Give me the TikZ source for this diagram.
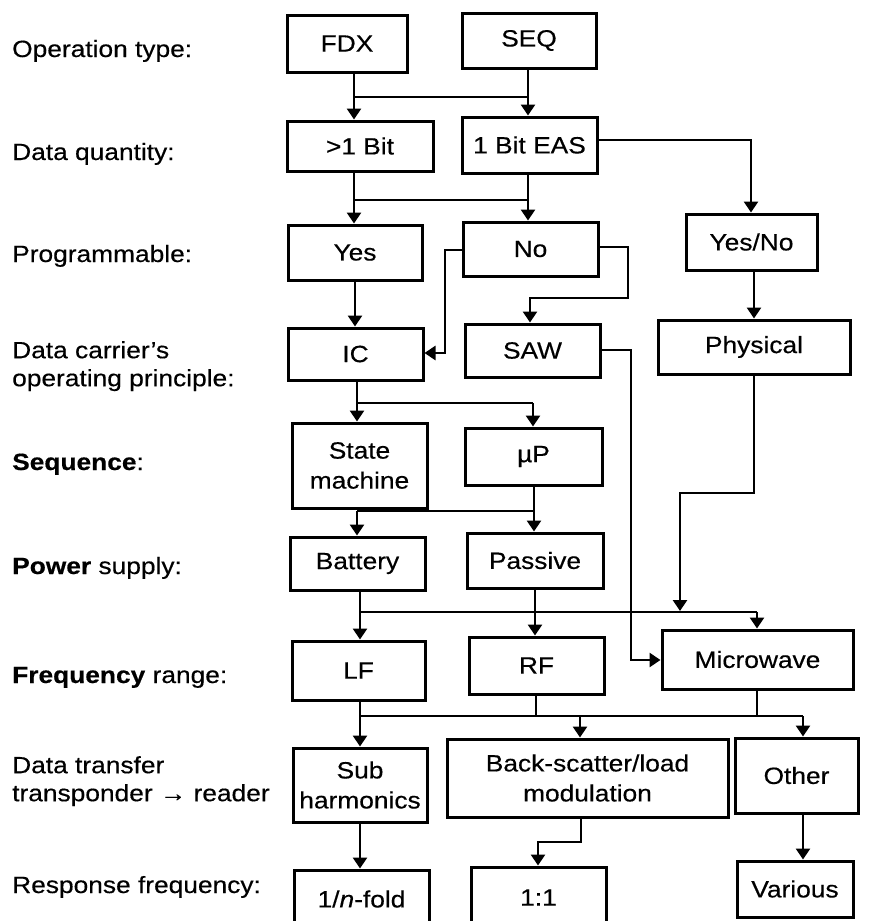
\documentclass[tikz,border=0pt]{standalone}
\usepackage{fontspec}
\setmainfont{Liberation Sans}[FakeStretch=1.12,FakeBold=0.4]
\usetikzlibrary{arrows.meta}
\newcommand\boxfnt{\fontsize{23.5}{30}\selectfont}
\newcommand\lblfnt{\fontsize{23.5}{28}\selectfont}
\begin{document}
\begin{tikzpicture}[x=1pt,y=-1pt,
  box/.style={draw, line width=3pt, inner sep=0pt, align=center, font=\boxfnt},
  lbl/.style={inner sep=0pt, align=left, font=\lblfnt},
  conn/.style={line width=2.8pt},
  arr/.style={conn, -{Triangle[width=14pt,length=11pt]}}]
\useasboundingbox[fill=white] (0,0) rectangle (870,921);

% ---- labels ----
\node[lbl, anchor=base west] (l1) at (12,57) {Operation type:};
\node[lbl, anchor=base west] (l2) at (12,160) {Data quantity:};
\node[lbl, anchor=base west] (l3) at (12,262) {Programmable:};
\node[lbl, anchor=north west] (l4) at (12,341) {Data carrier's\\operating principle:};
\node[lbl, anchor=base west] (l5) at (12,470) {\textbf{Sequence}:};
\node[lbl, anchor=base west] (l6) at (12,574) {\textbf{Power} supply:};
\node[lbl, anchor=base west] (l7) at (12,683) {\textbf{Frequency} range:};
\node[lbl, anchor=north west] (l8) at (12,756) {Data transfer\\transponder → reader};
\node[lbl, anchor=base west] (l9) at (12,893) {Response frequency:};

% ---- boxes ----
\node[box, minimum width=120pt, minimum height=57pt] (fdx) at (347,43.5) {FDX};
\node[box, minimum width=134pt, minimum height=55pt] (seq) at (529,40.5) {SEQ};
\node[box, minimum width=146pt, minimum height=50pt] (bit1) at (360,146) {>1 Bit};
\node[box, minimum width=135pt, minimum height=56pt] (eas) at (529.5,145) {1 Bit EAS};
\node[box, minimum width=134pt, minimum height=55pt] (yes) at (355,252.5) {Yes};
\node[box, minimum width=135pt, minimum height=54pt] (no) at (530.5,249) {No};
\node[box, minimum width=131pt, minimum height=56pt] (yesno) at (751.5,242) {Yes/No};
\node[box, minimum width=135pt, minimum height=52pt] (ic) at (355.5,354) {IC};
\node[box, minimum width=135pt, minimum height=53pt] (saw) at (532.5,350.5) {SAW};
\node[box, minimum width=192pt, minimum height=54pt] (phys) at (754,347) {Physical};
\node[box, minimum width=135pt, minimum height=85pt] (sm) at (359.5,465.5) {State\\machine};
\node[box, minimum width=137pt, minimum height=57pt] (up) at (533.5,456.5) {µP};
\node[box, minimum width=135pt, minimum height=53pt] (bat) at (357.5,563.5) {Battery};
\node[box, minimum width=136pt, minimum height=55pt] (pas) at (535,560.5) {Passive};
\node[box, minimum width=133pt, minimum height=59pt] (lf) at (358.5,670.5) {LF};
\node[box, minimum width=135pt, minimum height=57pt] (rf) at (536.5,665.5) {RF};
\node[box, minimum width=191pt, minimum height=59pt] (mw) at (757.5,659.5) {Microwave};
\node[box, minimum width=134pt, minimum height=74pt] (sub) at (360,785) {Sub\\harmonics};
\node[box, minimum width=281pt, minimum height=78pt] (bs) at (587.5,778) {Back-scatter/load\\modulation};
\node[box, minimum width=123pt, minimum height=75pt] (other) at (796.5,775.5) {Other};
\node[box, minimum width=135pt, minimum height=58pt] (nfold) at (361.5,899) {1/\textit{n}-fold};
\node[box, minimum width=135pt, minimum height=61pt] (one) at (538.5,897.5) {1:1};
\node[box, minimum width=116pt, minimum height=56pt] (various) at (795,889) {Various};

% ---- junction / bend coordinates ----
\coordinate (j1L) at (354,97);  \coordinate (j1R) at (528,97);
\coordinate (j2L) at (354,200); \coordinate (j2R) at (528,200);
\coordinate (b1) at (751,140);
\coordinate (b2) at (445,250);  \coordinate (b3) at (445,353);
\coordinate (b4) at (628,247);  \coordinate (b5) at (628,298); \coordinate (b6) at (530,298);
\coordinate (j3L) at (357,403); \coordinate (j3R) at (533,403);
\coordinate (j4L) at (357,511); \coordinate (j4R) at (534,511);
\coordinate (b7) at (631,350);  \coordinate (b8) at (631,660);
\coordinate (b9) at (754,493);  \coordinate (b10) at (680,493); \coordinate (j5P) at (680,611);
\coordinate (j5L) at (360,612); \coordinate (j5M) at (535,612); \coordinate (j5R) at (757,612);
\coordinate (j6L) at (360,716); \coordinate (j6M) at (536,716); \coordinate (j6W) at (757,716);
\coordinate (j6B) at (580,716); \coordinate (j6R) at (803,716);
\coordinate (b11) at (581,842); \coordinate (b12) at (538,842);

% ---- connectors ----
\draw[conn] (j1L) -- (j1R);
\draw[arr] (fdx.south -| j1L) -- (bit1.north -| j1L);
\draw[arr] (seq.south -| j1R) -- (eas.north -| j1R);

\draw[conn] (j2L) -- (j2R);
\draw[arr] (bit1.south -| j2L) -- (yes.north -| j2L);
\draw[arr] (eas.south -| j2R) -- (no.north -| j2R);
\draw[arr] (eas.east |- b1) -- (b1) -- (yesno.north -| b1);

\draw[arr] (no.west |- b2) -- (b2) -- (b3) -- (ic.east |- b3);
\draw[arr] (no.east |- b4) -- (b4) -- (b5) -- (b6) -- (saw.north -| b6);
\draw[arr] (yes.south) -- (yes.south |- ic.north);
\draw[arr] (yesno.south -| phys.north) -- (phys.north);

\draw[conn] (ic.south -| j3L) -- (j3L) -- (j3R);
\draw[arr] (j3L) -- (sm.north -| j3L);
\draw[arr] (j3R) -- (up.north -| j3R);

\draw[conn] (up.south -| j4R) -- (j4R) -- (j4L);
\draw[arr] (j4L) -- (bat.north -| j4L);
\draw[arr] (j4R) -- (pas.north -| j4R);

\draw[arr] (saw.east |- b7) -- (b7) -- (b8) -- (mw.west |- b8);
\draw[arr] (phys.south -| b9) -- (b9) -- (b10) -- (j5P);

\draw[conn] (bat.south -| j5L) -- (j5L) -- (j5R);
\draw[conn] (pas.south -| j5M) -- (j5M);
\draw[arr] (j5L) -- (lf.north -| j5L);
\draw[arr] (j5M) -- (rf.north -| j5M);
\draw[arr] (j5R) -- (mw.north -| j5R);

\draw[conn] (lf.south -| j6L) -- (j6L) -- (j6R);
\draw[conn] (rf.south -| j6M) -- (j6M);
\draw[conn] (mw.south -| j6W) -- (j6W);
\draw[arr] (j6L) -- (sub.north -| j6L);
\draw[arr] (j6B) -- (bs.north -| j6B);
\draw[arr] (j6R) -- (other.north -| j6R);

\draw[arr] (sub.south) -- (sub.south |- nfold.north);
\draw[arr] (bs.south -| b11) -- (b11) -- (b12) -- (one.north -| b12);
\draw[arr] (other.south -| j6R) -- (various.north -| j6R);
\end{tikzpicture}
\end{document}
